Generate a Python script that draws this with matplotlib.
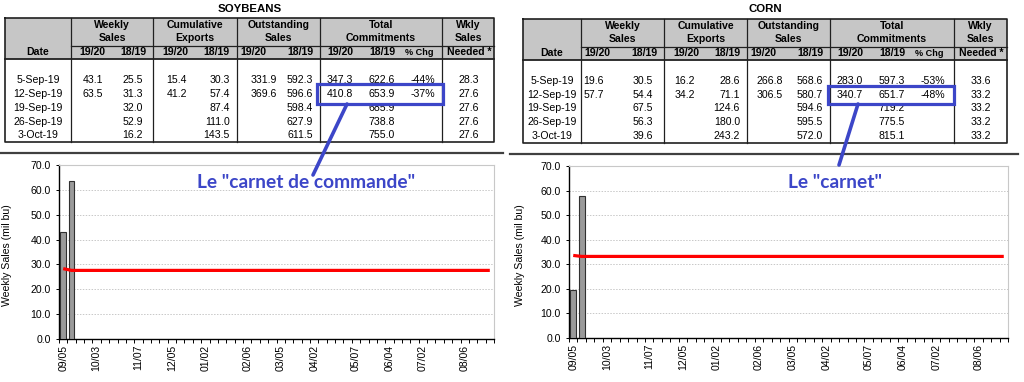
import matplotlib
matplotlib.use('Agg')
import matplotlib.pyplot as plt
import numpy as np
import pandas as pd

plt.rcParams['font.family'] = ['Liberation Sans', 'DejaVu Sans']

# ---------------- data ----------------
dates = ['5-Sep-19', '12-Sep-19', '19-Sep-19', '26-Sep-19', '3-Oct-19']

soy_weekly_1920 = [43.1, 63.5, None, None, None]
soy_weekly_1819 = [25.5, 31.3, 32.0, 52.9, 16.2]
soy_cumexp_1920 = [15.4, 41.2, None, None, None]
soy_cumexp_1819 = [30.3, 57.4, 87.4, 111.0, 143.5]
soy_outst_1920 = [331.9, 369.6, None, None, None]
soy_outst_1819 = [592.3, 596.6, 598.4, 627.9, 611.5]
soy_total_1920 = [347.3, 410.8, None, None, None]
soy_total_1819 = [622.6, 653.9, 685.9, 738.8, 755.0]
soy_pct_chg = [-44, -37, None, None, None]
soy_needed = [28.3, 27.6, 27.6, 27.6, 27.6]

corn_weekly_1920 = [19.6, 57.7, None, None, None]
corn_weekly_1819 = [30.5, 54.4, 67.5, 56.3, 39.6]
corn_cumexp_1920 = [16.2, 34.2, None, None, None]
corn_cumexp_1819 = [28.6, 71.1, 124.6, 180.0, 243.2]
corn_outst_1920 = [266.8, 306.5, None, None, None]
corn_outst_1819 = [568.6, 580.7, 594.6, 595.5, 572.0]
corn_total_1920 = [283.0, 340.7, None, None, None]
corn_total_1819 = [597.3, 651.7, 719.2, 775.5, 815.1]
corn_pct_chg = [-53, -48, None, None, None]
corn_needed = [33.6, 33.2, 33.2, 33.2, 33.2]

# chart data (marketing-year weeks)
weeks = list(pd.date_range('2019-09-05', periods=52, freq='7D').strftime('%m/%d'))
tick_labels = ['09/05', '10/03', '11/07', '12/05', '01/02', '02/06',
               '03/05', '04/02', '05/07', '06/04', '07/02', '08/06']
soy_bar_weeks = ['09/05', '09/12']
soy_bar_values = [43.1, 63.5]
corn_bar_weeks = ['09/05', '09/12']
corn_bar_values = [19.6, 57.7]
soy_needed_line = [28.3, 27.6, 27.6, 27.6, 27.6, 27.6, 27.6, 27.6, 27.6, 27.6,
                   27.6, 27.6, 27.6, 27.6, 27.6, 27.6, 27.6, 27.6, 27.6, 27.6,
                   27.6, 27.6, 27.6, 27.6, 27.6, 27.6, 27.6, 27.6, 27.6, 27.6,
                   27.6, 27.6, 27.6, 27.6, 27.6, 27.6, 27.6, 27.6, 27.6, 27.6,
                   27.6, 27.6, 27.6, 27.6, 27.6, 27.6, 27.6, 27.6, 27.6, 27.6,
                   27.6, 27.6]
corn_needed_line = [33.6, 33.2, 33.2, 33.2, 33.2, 33.2, 33.2, 33.2, 33.2, 33.2,
                    33.2, 33.2, 33.2, 33.2, 33.2, 33.2, 33.2, 33.2, 33.2, 33.2,
                    33.2, 33.2, 33.2, 33.2, 33.2, 33.2, 33.2, 33.2, 33.2, 33.2,
                    33.2, 33.2, 33.2, 33.2, 33.2, 33.2, 33.2, 33.2, 33.2, 33.2,
                    33.2, 33.2, 33.2, 33.2, 33.2, 33.2, 33.2, 33.2, 33.2, 33.2,
                    33.2, 33.2]

BLUE = '#3c46c8'
HDR_GRAY = '#c6c6c6'
FS = 7.6

W, H = 1024, 382
fig = plt.figure(figsize=(W / 100, H / 100), dpi=100)


def fr(x0, y0, x1, y1):
    return [x0 / W, 1 - y1 / H, (x1 - x0) / W, (y1 - y0) / H]


def draw_chart(rect, bar_weeks, bar_values, needed_line, label_x):
    ax = fig.add_axes(fr(*rect))
    pos = np.arange(len(weeks))
    bx = [weeks.index(w) for w in bar_weeks]
    ax.bar(bx, bar_values, width=0.7, color='#9a9a9a', edgecolor='#303030',
           linewidth=0.8, zorder=3)
    ax.plot(pos, needed_line, color='#ff0000', lw=2.3, zorder=4,
            solid_capstyle='butt')
    ax.set_xlim(-0.5, len(weeks) - 0.5)
    ax.set_ylim(0, 70)
    ax.set_yticks(np.arange(0, 71, 10))
    ax.set_yticklabels([f'{v:.1f}' for v in np.arange(0, 71, 10)], fontsize=FS)
    ax.yaxis.grid(True, color='#c8c8c8', linestyle=(0, (1.5, 1.5)), lw=0.7)
    ax.set_axisbelow(True)
    ax.set_xticks([weeks.index(t) for t in tick_labels])
    ax.set_xticklabels(tick_labels, rotation=90, fontsize=FS, va='top', ha='center')
    ax.set_xticks(np.arange(-0.5, len(weeks), 1), minor=True)
    ax.tick_params(axis='x', which='major', length=0, pad=4)
    ax.tick_params(axis='x', which='minor', length=3, width=0.7, direction='out')
    ax.tick_params(axis='y', length=2.5, width=0.7, pad=3.5)
    for s in ['top', 'right']:
        ax.spines[s].set_color('#c8c8c8')
        ax.spines[s].set_linewidth(0.8)
    for s in ['left', 'bottom']:
        ax.spines[s].set_color('black')
        ax.spines[s].set_linewidth(1.0)
    ax.set_ylabel('Weekly Sales (mil bu)', fontsize=FS)
    ax.yaxis.set_label_coords(label_x, 0.48)
    return ax


draw_chart((59, 165, 494, 339), soy_bar_weeks, soy_bar_values, soy_needed_line, -0.108)
draw_chart((569, 166, 1008, 338), corn_bar_weeks, corn_bar_values, corn_needed_line, -0.100)

# overlay in pixel coordinates
ov = fig.add_axes([0, 0, 1, 1])
ov.set_xlim(0, W)
ov.set_ylim(H, 0)
ov.axis('off')
ov.set_zorder(10)
ov.patch.set_visible(False)


def fmt(v, pct=False):
    if v is None:
        return ''
    return f'{v:.0f}%' if pct else f'{v:.1f}'


def draw_table(spec, cols, needed):
    L, R = spec['left'], spec['right']
    d = spec['div']
    top, sub, hb, bot = spec['top'], spec['sub'], spec['hb'], spec['bot']
    ov.add_patch(plt.Rectangle((L, top), R - L, hb - top, facecolor=HDR_GRAY,
                               edgecolor='none', zorder=1))
    lw = 0.9
    ov.plot([L, R, R, L, L], [top, top, bot, bot, top], color='#202020', lw=1.2, zorder=3)
    for x in d:
        ov.plot([x, x], [top, bot], color='#202020', lw=lw, zorder=3)
    ov.plot([d[0], R], [sub, sub], color='#202020', lw=lw, zorder=3)
    ov.plot([L, R], [hb, hb], color='#202020', lw=1.3, zorder=3)
    ov.text(spec['title_x'], 9, spec['title'], fontsize=8.2, fontweight='bold',
            ha='center', va='center')
    hy1, hy2, hy3 = spec['hy']
    ov.text((L + d[0]) / 2, hy3, 'Date', fontsize=FS, fontweight='bold', ha='center', va='center')
    groups = [('Weekly', 'Sales'), ('Cumulative', 'Exports'), ('Outstanding', 'Sales'),
              ('Total', 'Commitments'), ('Wkly', 'Sales')]
    edges = d + [R]
    for i, (a, b) in enumerate(groups):
        cx = (edges[i] + edges[i + 1]) / 2
        ov.text(cx, hy1, a, fontsize=FS, fontweight='bold', ha='center', va='center')
        ov.text(cx, hy2, b, fontsize=FS, fontweight='bold', ha='center', va='center')
    for cx, lab in zip(spec['subc'], ['19/20', '18/19'] * 4):
        ov.text(cx, hy3, lab, fontsize=FS, fontweight='bold', ha='center', va='center')
    ov.text(spec['pctc'], hy3 + 0.5, '% Chg', fontsize=6.6, fontweight='bold', ha='center', va='center')
    ov.text(spec['needc'], hy3, 'Needed *', fontsize=FS, fontweight='bold', ha='center', va='center')
    for r, y in enumerate(spec['rows']):
        ov.text((L + d[0]) / 2, y, dates[r], fontsize=FS, ha='center', va='center')
        for xr, col in zip(spec['numr'], cols):
            ov.text(xr, y, fmt(col[r]), fontsize=FS, ha='right', va='center', zorder=2)
        ov.text(spec['pctr'], y, fmt(spec['pct'][r], True), fontsize=FS, ha='right', va='center', zorder=2)
        ov.text(spec['needc'], y, fmt(needed[r]), fontsize=FS, ha='center', va='center')


soy_spec = dict(title='SOYBEANS', title_x=250, left=5, right=494,
                div=[71, 153, 237, 320, 442], top=18, sub=46, hb=59, bot=142,
                hy=(25, 38, 52), subc=[92, 133, 175, 216, 253, 300, 340, 382],
                pctc=419, needc=469,
                numr=[103, 143, 187, 230, 277, 313, 353, 395], pctr=435,
                rows=[80, 94, 108, 122, 135], pct=soy_pct_chg)
corn_spec = dict(title='CORN', title_x=765, left=523, right=1007,
                 div=[581, 664, 747, 830, 954], top=19, sub=47, hb=60, bot=143,
                 hy=(26, 39, 53), subc=[597, 644, 686, 727, 763, 810, 850, 892],
                 pctc=929, needc=981,
                 numr=[604, 653, 695, 740, 783, 823, 863, 905], pctr=945,
                 rows=[81, 95, 108, 122, 136], pct=corn_pct_chg)

draw_table(soy_spec, [soy_weekly_1920, soy_weekly_1819, soy_cumexp_1920, soy_cumexp_1819,
                      soy_outst_1920, soy_outst_1819, soy_total_1920, soy_total_1819],
           soy_needed)
draw_table(corn_spec, [corn_weekly_1920, corn_weekly_1819, corn_cumexp_1920, corn_cumexp_1819,
                       corn_outst_1920, corn_outst_1819, corn_total_1920, corn_total_1819],
           corn_needed)

# separators
ov.plot([0, 503], [153, 153], color='#404040', lw=1.6)
ov.plot([510, 1018], [154, 154], color='#404040', lw=1.6)

# highlight boxes and connectors
for (x0, y0, x1, y1), (lx0, ly0, lx1, ly1) in [((317, 84, 443, 104), (347, 104, 313, 175)),
                                               ((828, 86, 954, 104), (858, 104, 839, 165))]:
    ov.add_patch(plt.Rectangle((x0, y0), x1 - x0, y1 - y0, fill=False,
                               edgecolor=BLUE, lw=2.3, zorder=6))
    ov.plot([lx0, lx1], [ly0, ly1], color=BLUE, lw=2.6, solid_capstyle='round', zorder=6)

ov.text(306.5, 183, 'Le "carnet de commande"', color=BLUE, fontsize=13.8,
        fontweight='bold', family=['Lato', 'DejaVu Sans'], ha='center', va='center', zorder=7)
ov.text(835.5, 183, 'Le "carnet"', color=BLUE, fontsize=13.8,
        fontweight='bold', family=['Lato', 'DejaVu Sans'], ha='center', va='center', zorder=7)

fig.savefig('out.png', dpi=100)
